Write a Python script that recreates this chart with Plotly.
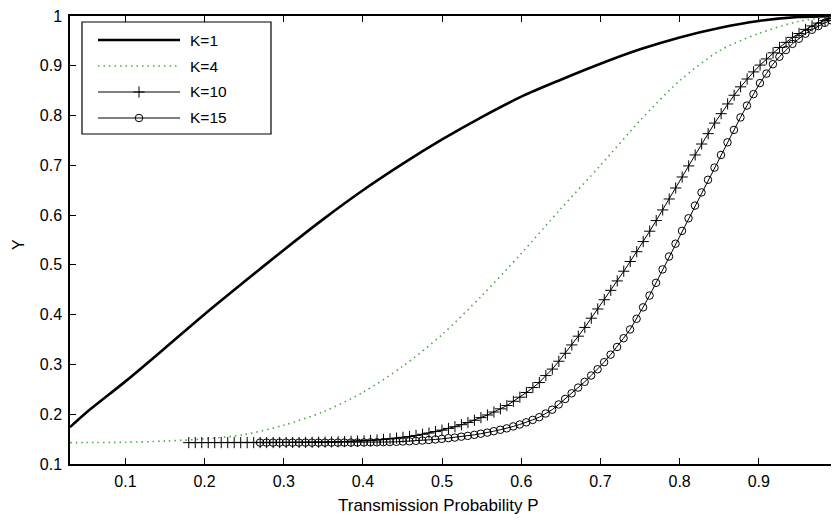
import plotly.graph_objects as go

# ---------------- data ----------------
P_LINE = [0.03, 0.05, 0.10, 0.15, 0.20, 0.25, 0.30, 0.35, 0.40, 0.45, 0.50,
          0.55, 0.60, 0.65, 0.70, 0.75, 0.80, 0.85, 0.90, 0.95, 1.00]
Y_K1 = [0.174, 0.2025, 0.266, 0.333, 0.401, 0.466, 0.530, 0.592, 0.650, 0.703, 0.752,
        0.797, 0.838, 0.872, 0.904, 0.933, 0.957, 0.976, 0.990, 0.998, 1.000]
Y_K4 = [0.1430, 0.1431, 0.1437, 0.1460, 0.1505, 0.1590, 0.1780, 0.2050, 0.2440, 0.2960, 0.3600,
        0.4380, 0.5230, 0.6130, 0.7000, 0.7900, 0.8700, 0.9300, 0.9650, 0.9890, 1.0000]

P10_START, P10_STEP = 0.18, 0.0082
Y_K10 = [0.1430, 0.1430, 0.1430, 0.1430, 0.1430, 0.1430, 0.1430, 0.1430, 0.1430, 0.1430,
         0.1430, 0.1430, 0.1430, 0.1431, 0.1431, 0.1432, 0.1433, 0.1434, 0.1435, 0.1436,
         0.1438, 0.1440, 0.1443, 0.1447, 0.1451, 0.1455, 0.1460, 0.1466, 0.1474, 0.1483,
         0.1494, 0.1506, 0.1520, 0.1536, 0.1553, 0.1574, 0.1597, 0.1622, 0.1651, 0.1680,
         0.1715, 0.1749, 0.1790, 0.1833, 0.1879, 0.1932, 0.1985, 0.2044, 0.2109, 0.2175,
         0.2260, 0.2342, 0.2437, 0.2535, 0.2637, 0.2776, 0.2907, 0.3064, 0.3224, 0.3392,
         0.3568, 0.3744, 0.3929, 0.4114, 0.4300, 0.4489, 0.4678, 0.4873, 0.5068, 0.5265,
         0.5468, 0.5677, 0.5890, 0.6104, 0.6324, 0.6545, 0.6766, 0.6988, 0.7209, 0.7428,
         0.7636, 0.7849, 0.8038, 0.8233, 0.8408, 0.8577, 0.8734, 0.8877, 0.9014, 0.9137,
         0.9260, 0.9368, 0.9470, 0.9570, 0.9648, 0.9731, 0.9800, 0.9857, 0.9912, 0.9950,
         0.9985]

P15_START, P15_STEP = 0.27, 0.0082
Y_K15 = [0.1430, 0.1430, 0.1430, 0.1430, 0.1430, 0.1430, 0.1430, 0.1430, 0.1430, 0.1430,
         0.1430, 0.1430, 0.1430, 0.1431, 0.1431, 0.1432, 0.1433, 0.1435, 0.1436, 0.1439,
         0.1442, 0.1446, 0.1452, 0.1457, 0.1465, 0.1472, 0.1482, 0.1493, 0.1505, 0.1519,
         0.1531, 0.1549, 0.1565, 0.1586, 0.1609, 0.1630, 0.1659, 0.1688, 0.1716, 0.1755,
         0.1794, 0.1837, 0.1886, 0.1940, 0.2014, 0.2091, 0.2196, 0.2307, 0.2420, 0.2535,
         0.2650, 0.2777, 0.2904, 0.3045, 0.3197, 0.3351, 0.3527, 0.3703, 0.3917, 0.4147,
         0.4384, 0.4640, 0.4909, 0.5168, 0.5426, 0.5683, 0.5937, 0.6191, 0.6456, 0.6710,
         0.6954, 0.7208, 0.7462, 0.7712, 0.7962, 0.8200, 0.8430, 0.8652, 0.8843, 0.9032,
         0.9182, 0.9317, 0.9440, 0.9543, 0.9645, 0.9723, 0.9797, 0.9863, 0.9912, 0.9960]

X_TICKS = [0.1, 0.2, 0.3, 0.4, 0.5, 0.6, 0.7, 0.8, 0.9]
X_TICK_LABELS = ["0.1", "0.2", "0.3", "0.4", "0.5", "0.6", "0.7", "0.8", "0.9"]
Y_TICKS = [0.1, 0.2, 0.3, 0.4, 0.5, 0.6, 0.7, 0.8, 0.9, 1.0]
Y_TICK_LABELS = ["0.1", "0.2", "0.3", "0.4", "0.5", "0.6", "0.7", "0.8", "0.9", "1"]

SERIES_NAMES = ["K=1", "K=4", "K=10", "K=15"]
X_TITLE = "Transmission Probability P"
Y_TITLE = "Y"

P10 = [round(P10_START + P10_STEP * i, 4) for i in range(len(Y_K10))]
P15 = [round(P15_START + P15_STEP * i, 4) for i in range(len(Y_K15))]

# ---------------- styles ----------------
FONT = "Liberation Sans, Arial, Helvetica, sans-serif"
GREEN = "rgb(70,170,70)"
W, H = 839, 520
OFF = 8                      # the page body offsets the figure by 8 px
PL, PR, PT, PB = 70, 838, 16, 464   # wanted plot-area edges on the page
L, T = PL - OFF, PT - OFF
R = W - (PR - OFF)
B = H - (PB - OFF)

styles = [
    dict(line=dict(color="black", width=2.6), mode="lines"),
    dict(line=dict(color=GREEN, width=1.6, dash="1.5px,4px"), mode="lines"),
    dict(line=dict(color="black", width=1), mode="lines+markers",
         marker=dict(symbol="cross-thin", size=8, line=dict(color="black", width=1))),
    dict(line=dict(color="black", width=1), mode="lines+markers",
         marker=dict(symbol="circle-open", size=7.5, color="black", line=dict(color="black", width=1))),
]

fig = go.Figure()
xs = [P_LINE, P_LINE, P10, P15]
ys = [Y_K1, Y_K4, Y_K10, Y_K15]
for name, x, y, st in zip(SERIES_NAMES, xs, ys, styles):
    kw = dict(st)
    if kw["mode"] == "lines":
        kw["line"] = dict(kw["line"], shape="spline", smoothing=0.8)
    fig.add_trace(go.Scatter(x=x, y=y, name=name, showlegend=False, **kw))

# ---------------- custom legend (paper / overlay units from page pixels) ----------------
pw, ph = PR - PL, PB - PT
def fx(px):
    return (px - PL) / pw
def fy(py):
    return (PB - py) / ph

rows_py = [40, 66, 92, 118]
lx0, lx1, lxm, ltx = 98, 180, 139, 188
for name, st, py in zip(SERIES_NAMES, styles, rows_py):
    fig.add_trace(go.Scatter(x=[fx(lx0), fx(lx1)], y=[fy(py), fy(py)], mode="lines",
                             line=st["line"], xaxis="x2", yaxis="y2",
                             showlegend=False, hoverinfo="skip"))
    if "marker" in st:
        fig.add_trace(go.Scatter(x=[fx(lxm)], y=[fy(py)], mode="markers",
                                 marker=st["marker"], xaxis="x2", yaxis="y2",
                                 showlegend=False, hoverinfo="skip"))
    fig.add_annotation(x=fx(ltx), y=fy(py), xref="paper", yref="paper", text=name,
                       showarrow=False, xanchor="left", yanchor="middle",
                       font=dict(family=FONT, size=15.5, color="black"))

fig.add_shape(type="rect", xref="paper", yref="paper", x0=fx(82), x1=fx(271), y0=fy(134), y1=fy(22),
              line=dict(color="black", width=1.2), layer="above")

# axis titles as annotations at fixed page positions
fig.add_annotation(x=fx(438), y=fy(505), xref="paper", yref="paper", text=X_TITLE,
                   showarrow=False, xanchor="center", yanchor="middle",
                   font=dict(family=FONT, size=17, color="black"))
fig.add_annotation(x=fx(18), y=fy(245), xref="paper", yref="paper", text=Y_TITLE,
                   showarrow=False, xanchor="center", yanchor="middle", textangle=-90,
                   font=dict(family=FONT, size=16, color="black"))

axis_common = dict(showgrid=False, zeroline=False, showline=True, linecolor="black",
                   linewidth=1.5, mirror="ticks", ticks="inside", ticklen=6,
                   tickwidth=1, tickcolor="black", automargin=False,
                   ticklabeloverflow="allow",
                   tickfont=dict(family=FONT, size=16, color="black"))

fig.update_layout(
    width=W, height=H,
    margin=dict(l=L, r=R, t=T, b=B, pad=0, autoexpand=False),
    plot_bgcolor="white", paper_bgcolor="white",
    font=dict(family=FONT, color="black"),
    xaxis=dict(range=[0.03, 1.0], tickvals=X_TICKS, ticktext=X_TICK_LABELS,
               ticklabelstandoff=2, **axis_common),
    yaxis=dict(range=[0.1, 1.0], tickvals=Y_TICKS, ticktext=Y_TICK_LABELS,
               ticklabelstandoff=3, **axis_common),
    xaxis2=dict(overlaying="x", range=[0, 1], visible=False, fixedrange=True),
    yaxis2=dict(overlaying="y", range=[0, 1], visible=False, fixedrange=True),
    showlegend=False,
)

fig.write_html("out.html")
